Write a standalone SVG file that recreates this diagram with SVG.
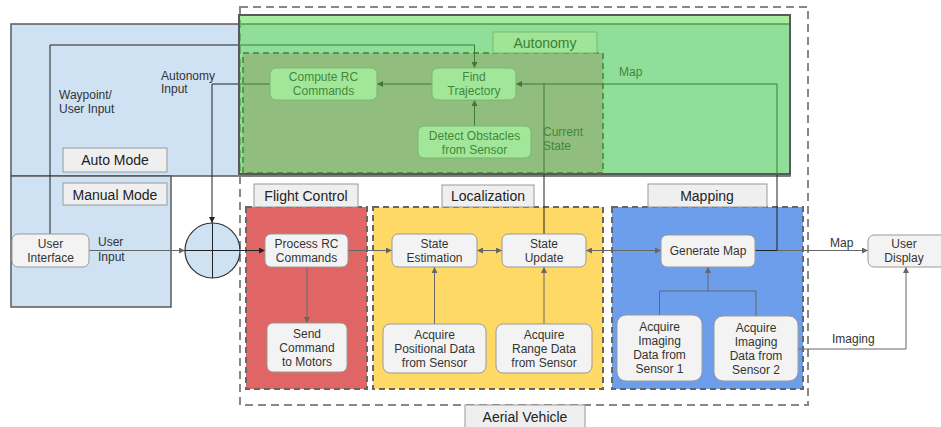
<svg xmlns="http://www.w3.org/2000/svg" width="941" height="427" viewBox="0 0 941 427">
  <style>
    text { font-family: "Liberation Sans", Arial, sans-serif; fill: #333; }
    .node rect { fill: #f3f3f3; stroke: #999; stroke-width: 1; }
    .node text { font-size: 12px; text-anchor: middle; }
    .label rect { fill: #efefef; stroke: #999; stroke-width: 1; }
    .label text { font-size: 14px; text-anchor: middle; fill: #222; }
    .note { font-size: 12px; }
    .zone { stroke: #666; stroke-width: 2; stroke-dasharray: 6 4; }
    .mode { fill: #cfe2f3; stroke: #595959; stroke-width: 1.5; }
    .dark { fill: none; stroke: #222; stroke-width: 1; }
    .grey { fill: none; stroke: #666; stroke-width: 1; }
  </style>
  <defs>
    <marker id="arrow-dark" viewBox="0 0 6 6" refX="6" refY="3" markerWidth="6" markerHeight="6" markerUnits="userSpaceOnUse" orient="auto-start-reverse">
      <path d="M0,0 L6,3 L0,6 z" fill="#222"/>
    </marker>
    <marker id="arrow-grey" viewBox="0 0 6 6" refX="6" refY="3" markerWidth="6" markerHeight="6" markerUnits="userSpaceOnUse" orient="auto-start-reverse">
      <path d="M0,0 L6,3 L0,6 z" fill="#666"/>
    </marker>
  </defs>

  <!-- operating modes -->
  <g id="auto-mode-region">
    <rect class="mode" x="11" y="24" width="779" height="152"/>
  </g>
  <g id="manual-mode-region">
    <rect class="mode" x="11" y="176" width="160" height="131"/>
  </g>

  <!-- vehicle boundary and subsystems -->
  <g id="aerial-vehicle">
    <rect x="240" y="7" width="568" height="398" fill="none" stroke="#888" stroke-width="2" stroke-dasharray="8 5"/>
  </g>
  <g id="flight-control-zone">
    <rect class="zone" x="246" y="207" width="121" height="182" fill="#e06666"/>
  </g>
  <g id="localization-zone">
    <rect class="zone" x="373" y="207" width="230" height="182" fill="#ffd966"/>
  </g>
  <g id="mapping-zone">
    <rect class="zone" x="612" y="207" width="191" height="182" fill="#6d9eeb"/>
  </g>
  <g id="autonomy-inner-zone">
    <rect x="243" y="53" width="360" height="120" fill="#d3a1bf" stroke="#555" stroke-width="2" stroke-dasharray="6 4"/>
  </g>

  <!-- section labels -->
  <g id="label-auto-mode" class="label"><rect x="63" y="148" width="104" height="24"/><text x="115" y="165">Auto Mode</text></g>
  <g id="label-manual-mode" class="label"><rect x="63" y="183" width="104" height="22"/><text x="115" y="200">Manual Mode</text></g>
  <g id="label-autonomy" class="label"><rect x="493" y="32" width="104" height="21" fill="#fff"/><text x="545" y="48">Autonomy</text></g>
  <g id="label-flight-control" class="label"><rect x="254" y="184" width="104" height="23"/><text x="306" y="201">Flight Control</text></g>
  <g id="label-localization" class="label"><rect x="442" y="185" width="92" height="22"/><text x="488" y="201">Localization</text></g>
  <g id="label-mapping" class="label"><rect x="648" y="184" width="119" height="23"/><text x="707" y="201">Mapping</text></g>
  <g id="label-aerial-vehicle" class="label"><rect x="465" y="405" width="120" height="24"/><text x="525" y="422">Aerial Vehicle</text></g>

  <!-- connectors -->
  <g id="connectors">
    <polyline class="dark" points="50,234 50,45 474.5,45 474.5,68" marker-end="url(#arrow-dark)"/>
    <polyline class="dark" points="270,84 212,84 212,223" marker-end="url(#arrow-dark)"/>
    <line class="dark" x1="474.5" y1="126" x2="474.5" y2="100" marker-end="url(#arrow-dark)"/>
    <line class="dark" x1="432" y1="84" x2="377" y2="84" marker-end="url(#arrow-dark)"/>
    <line class="grey" x1="755" y1="250.5" x2="868" y2="250.5" marker-end="url(#arrow-grey)"/>
    <polyline class="dark" points="755,250.5 777,250.5 777,84 516,84" marker-end="url(#arrow-dark)"/>
    <line class="dark" x1="544" y1="234" x2="544" y2="84"/>
    <line class="grey" x1="89" y1="250.5" x2="185" y2="250.5" marker-end="url(#arrow-grey)"/>
    <line class="dark" x1="240" y1="250.5" x2="265" y2="250.5" marker-end="url(#arrow-dark)"/>
    <line class="grey" x1="348" y1="250.5" x2="392" y2="250.5" marker-end="url(#arrow-grey)"/>
    <line class="grey" x1="307" y1="267" x2="307" y2="323" marker-end="url(#arrow-grey)"/>
    <line class="grey" x1="477" y1="250.5" x2="502" y2="250.5" marker-start="url(#arrow-grey)" marker-end="url(#arrow-grey)"/>
    <line class="grey" x1="586" y1="250.5" x2="661" y2="250.5" marker-start="url(#arrow-grey)" marker-end="url(#arrow-grey)"/>
    <line class="grey" x1="434.5" y1="324" x2="434.5" y2="267" marker-end="url(#arrow-grey)"/>
    <line class="grey" x1="544" y1="324" x2="544" y2="267" marker-end="url(#arrow-grey)"/>
    <polyline class="grey" points="659.5,315 659.5,291 756,291 756,316"/>
    <line class="grey" x1="708" y1="291" x2="708" y2="267" marker-end="url(#arrow-grey)"/>
    <polyline class="grey" points="798,349 906,349 906,267" marker-end="url(#arrow-grey)"/>
  </g>

  <!-- connector captions -->
  <g id="captions">
    <text class="note" x="59" y="99">Waypoint/</text>
    <text class="note" x="59" y="113">User Input</text>
    <text class="note" x="161" y="80">Autonomy</text>
    <text class="note" x="161" y="93">Input</text>
    <text class="note" x="98" y="246">User</text>
    <text class="note" x="98" y="261">Input</text>
    <text class="note" x="619" y="76">Map</text>
    <text class="note" x="543" y="136">Current</text>
    <text class="note" x="543" y="150">State</text>
    <text class="note" x="830" y="247">Map</text>
    <text class="note" x="832" y="343">Imaging</text>
  </g>

  <!-- autonomy nodes -->
  <g id="compute-rc" class="node"><rect x="270" y="68" width="107" height="32" rx="6"/><text x="323.5" y="81">Compute RC</text><text x="323.5" y="95">Commands</text></g>
  <g id="find-trajectory" class="node"><rect x="432" y="68" width="84" height="32" rx="6"/><text x="474" y="81">Find</text><text x="474" y="95">Trajectory</text></g>
  <g id="detect-obstacles" class="node"><rect x="418" y="126" width="113" height="32" rx="6"/><text x="474.5" y="140">Detect Obstacles</text><text x="474.5" y="154">from Sensor</text></g>

  <!-- autonomy layer tint -->
  <rect id="autonomy-tint" x="239" y="15" width="551" height="159" fill="#4fd93f" fill-opacity="0.5"/>
  <g id="autonomy">
    <rect x="239" y="15" width="551" height="159" fill="none" stroke="#595959" stroke-width="2"/>
  </g>

  <!-- mixer -->
  <g id="mixer">
    <circle cx="212.5" cy="250.5" r="27.5" fill="#cfe2f3" stroke="#333" stroke-width="1.2"/>
    <line x1="185" y1="250.5" x2="240" y2="250.5" stroke="#222" stroke-width="1"/>
    <line x1="212.5" y1="223" x2="212.5" y2="278" stroke="#222" stroke-width="1"/>
  </g>

  <!-- nodes -->
  <g id="user-interface" class="node"><rect x="12" y="234" width="77" height="33" rx="6"/><text x="50.5" y="248">User</text><text x="50.5" y="262">Interface</text></g>
  <g id="process-rc" class="node"><rect x="265" y="234" width="83" height="33" rx="6"/><text x="306.5" y="248">Process RC</text><text x="306.5" y="262">Commands</text></g>
  <g id="send-command" class="node"><rect x="267" y="323" width="80" height="49" rx="6"/><text x="307" y="338">Send</text><text x="307" y="352">Command</text><text x="307" y="366">to Motors</text></g>
  <g id="state-estimation" class="node"><rect x="392" y="234" width="85" height="33" rx="6"/><text x="434.5" y="248">State</text><text x="434.5" y="262">Estimation</text></g>
  <g id="state-update" class="node"><rect x="502" y="234" width="84" height="33" rx="6"/><text x="544" y="248">State</text><text x="544" y="262">Update</text></g>
  <g id="acquire-positional" class="node"><rect x="383" y="324" width="103" height="49" rx="7"/><text x="434.5" y="339">Acquire</text><text x="434.5" y="353">Positional Data</text><text x="434.5" y="367">from Sensor</text></g>
  <g id="acquire-range" class="node"><rect x="496" y="324" width="96" height="49" rx="7"/><text x="544" y="339">Acquire</text><text x="544" y="353">Range Data</text><text x="544" y="367">from Sensor</text></g>
  <g id="generate-map" class="node"><rect x="661" y="235" width="94" height="32" rx="6"/><text x="708" y="255">Generate Map</text></g>
  <g id="user-display" class="node"><rect x="868" y="235" width="80" height="32" rx="6"/><text x="904" y="248">User</text><text x="904" y="262">Display</text></g>
  <g id="imaging-sensor-1" class="node"><rect x="617" y="315" width="85" height="66" rx="9"/><text x="659.5" y="331">Acquire</text><text x="659.5" y="345">Imaging</text><text x="659.5" y="359">Data from</text><text x="659.5" y="373">Sensor 1</text></g>
  <g id="imaging-sensor-2" class="node"><rect x="714" y="316" width="84" height="65" rx="9"/><text x="756" y="332">Acquire</text><text x="756" y="346">Imaging</text><text x="756" y="360">Data from</text><text x="756" y="374">Sensor 2</text></g>
</svg>
